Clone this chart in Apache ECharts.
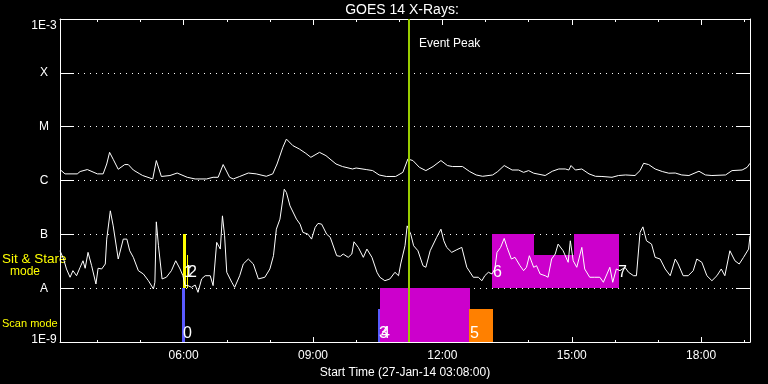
<!DOCTYPE html>
<html><head><meta charset="utf-8">
<script src="https://cdn.jsdelivr.net/npm/echarts@6/dist/echarts.min.js"></script>
<style>html,body{margin:0;padding:0;background:#000}#c{width:768px;height:384px}</style>
</head><body><div id="c"></div>
<script>
// ---- data ----
const startTime = '03:08';
const endTime = '19:08';
const longTimes = ['03:08','03:15','03:32','03:36','03:46','04:00','04:08','04:13','04:17','04:22',
'04:29','04:38','04:43','04:50','04:59','05:03','05:17','05:22','05:29','05:41',
'05:51','06:05','06:16','06:32','06:41','06:48','06:55','07:04','07:09','07:18',
'07:30','07:41','07:55','08:04','08:10','08:18','08:23','08:32','08:41','08:50',
'08:57','09:09','09:18','09:32','09:41','09:55','10:00','10:14','10:23','10:32',
'10:42','10:55','11:05','11:12','11:19','11:28','11:37','11:47','11:58','12:07',
'12:14','12:28','12:38','12:47','12:56','13:10','13:17','13:26','13:37','13:46',
'13:53','14:00','14:07','14:23','14:33','14:42','14:51','14:56','14:59','15:05',
'15:14','15:24','15:33','15:42','15:56','16:05','16:15','16:28','16:35','16:40',
'16:47','16:56','17:06','17:15','17:24','17:33','17:43','17:57','18:06','18:15',
'18:34','18:43','18:57','19:04','19:08'];
const longFlux = [1.60e-6,1.33e-6,1.33e-6,1.47e-6,1.60e-6,1.33e-6,1.33e-6,2.03e-6,3.34e-6,2.48e-6,
1.62e-6,1.98e-6,1.98e-6,1.57e-6,1.33e-6,1.24e-6,1.07e-6,2.35e-6,1.19e-6,1.24e-6,
1.38e-6,1.15e-6,1.07e-6,1.07e-6,1.15e-6,1.15e-6,1.98e-6,1.15e-6,1.07e-6,1.19e-6,
1.38e-6,1.33e-6,1.20e-6,1.33e-6,2.03e-6,4.14e-6,5.89e-6,4.45e-6,3.85e-6,3.20e-6,
2.70e-6,3.34e-6,2.90e-6,2.03e-6,1.82e-6,1.64e-6,1.71e-6,1.60e-6,1.53e-6,1.27e-6,
1.19e-6,1.19e-6,1.42e-6,2.51e-6,2.35e-6,1.76e-6,1.53e-6,1.82e-6,2.35e-6,1.90e-6,
1.82e-6,1.82e-6,1.47e-6,1.27e-6,1.20e-6,1.27e-6,1.47e-6,1.90e-6,1.57e-6,1.57e-6,
1.42e-6,1.53e-6,1.37e-6,1.24e-6,1.49e-6,1.64e-6,1.64e-6,1.57e-6,1.90e-6,1.57e-6,
1.64e-6,1.33e-6,1.20e-6,1.19e-6,1.15e-6,1.24e-6,1.27e-6,1.24e-6,1.53e-6,2.09e-6,
1.98e-6,1.64e-6,1.47e-6,1.37e-6,1.38e-6,1.27e-6,1.24e-6,1.49e-6,1.27e-6,1.24e-6,
1.27e-6,1.53e-6,1.57e-6,1.76e-6,2.09e-6];
const shortTimes = ['03:08','03:13','03:17','03:22','03:26','03:31','03:36','03:40','03:43','03:47',
'03:52','03:58','04:01','04:06','04:11','04:13','04:18','04:22','04:29','04:36',
'04:41','04:45','04:50','04:57','05:04','05:11','05:18','05:20','05:22','05:25',
'05:30','05:36','05:43','05:49','05:55','05:59','06:02','06:06','06:11','06:16',
'06:20','06:25','06:30','06:37','06:41','06:46','06:51','06:54','06:57','07:00',
'07:07','07:11','07:18','07:23','07:30','07:37','07:44','07:53','08:00','08:05',
'08:09','08:14','08:20','08:23','08:28','08:37','08:42','08:46','08:53','08:58',
'09:03','09:07','09:12','09:19','09:24','09:33','09:38','09:42','09:49','09:54',
'09:57','10:03','10:10','10:15','10:22','10:29','10:33','10:40','10:47','10:54',
'10:59','11:02','11:08','11:11','11:16','11:20','11:26','11:33','11:37','11:43',
'11:52','11:58','12:02','12:06','12:13','12:20','12:27','12:34','12:43','12:50',
'12:55','12:59','13:04','13:09','13:13','13:16','13:21','13:26','13:30','13:36',
'13:41','13:48','13:53','13:57','14:01','14:07','14:11','14:16','14:23','14:27',
'14:32','14:37','14:41','14:48','14:55','14:58','15:02','15:07','15:14','15:18',
'15:25','15:32','15:39','15:44','15:49','15:53','15:57','16:02','16:07','16:14',
'16:19','16:26','16:30','16:35','16:39','16:44','16:51','16:56','17:03','17:10',
'17:17','17:24','17:28','17:35','17:42','17:49','17:54','18:01','18:08','18:15',
'18:22','18:28','18:33','18:40','18:47','18:53','18:59','19:06','19:08'];
const shortFlux = [4.97e-8,3.49e-8,2.28e-8,1.60e-8,2.12e-8,1.71e-8,2.45e-8,3.24e-8,2.35e-8,4.64e-8,
2.62e-8,1.20e-8,2.35e-8,2.28e-8,2.82e-8,8.18e-8,27.4e-8,14.4e-8,3.49e-8,8.18e-8,
8.18e-8,4.97e-8,3.75e-8,2.12e-8,1.84e-8,1.38e-8,0.97e-8,1.29e-8,17.1e-8,6.15e-8,
1.49e-8,1.60e-8,2.12e-8,3.24e-8,2.28e-8,1.71e-8,1.12e-8,1.12e-8,1.04e-8,1.15e-8,
0.84e-8,1.49e-8,1.71e-8,1.71e-8,1.12e-8,7.11e-8,5.34e-8,22.1e-8,9.42e-8,1.98e-8,
1.29e-8,1.04e-8,1.71e-8,2.82e-8,3.49e-8,2.82e-8,1.49e-8,1.60e-8,2.28e-8,4.02e-8,
12.5e-8,19.2e-8,69.0e-8,60.0e-8,33.9e-8,19.2e-8,15.5e-8,10.9e-8,10.1e-8,8.18e-8,
13.5e-8,16.0e-8,15.5e-8,10.1e-8,8.80e-8,4.02e-8,3.91e-8,4.32e-8,3.75e-8,4.32e-8,
7.29e-8,5.74e-8,3.75e-8,5.34e-8,3.75e-8,1.98e-8,1.60e-8,1.38e-8,1.49e-8,1.98e-8,
1.71e-8,2.82e-8,6.15e-8,14.4e-8,10.1e-8,6.15e-8,4.97e-8,2.62e-8,2.45e-8,4.97e-8,
8.80e-8,12.5e-8,7.61e-8,5.74e-8,4.64e-8,5.19e-8,5.74e-8,2.45e-8,1.60e-8,1.60e-8,
1.38e-8,1.71e-8,1.98e-8,1.84e-8,2.28e-8,4.64e-8,5.74e-8,8.43e-8,5.74e-8,3.49e-8,
3.75e-8,2.62e-8,2.12e-8,2.45e-8,4.02e-8,2.45e-8,2.62e-8,1.84e-8,1.71e-8,1.60e-8,
3.49e-8,4.32e-8,6.61e-8,4.97e-8,3.03e-8,7.61e-8,3.24e-8,2.45e-8,5.74e-8,2.28e-8,
1.60e-8,1.60e-8,1.60e-8,1.29e-8,1.84e-8,2.45e-8,1.29e-8,2.28e-8,2.12e-8,2.45e-8,
1.98e-8,1.71e-8,1.71e-8,10.9e-8,13.8e-8,7.61e-8,6.61e-8,3.75e-8,3.49e-8,2.28e-8,
1.71e-8,3.49e-8,2.82e-8,1.71e-8,1.71e-8,2.12e-8,3.49e-8,3.03e-8,1.71e-8,1.38e-8,
1.71e-8,2.28e-8,1.71e-8,4.97e-8,3.24e-8,2.82e-8,3.75e-8,5.34e-8,9.42e-8];
const majorTickHours = [6, 9, 12, 15, 18];   // labelled ticks, every 3 h
const minorTickFirst = 4, minorTickLast = 19; // hourly ticks
const levelValues = [1e-9, 1e-8, 1e-7, 1e-6, 1e-5, 1e-4, 1e-3];
const levelLabels = ['1E-9', 'A', 'B', 'C', 'M', 'X', '1E-3'];
// observation blocks
const eventNames = ['0', '1', '2', '3', '4', '5', '6', '', '', '7'];
const eventStart = ['05:58','05:59','06:04','10:30','10:33','12:37','13:09','14:08','15:03','16:03'];
const eventEnd   = ['06:02','06:03','06:05','10:33','12:38','13:10','14:08','15:03','16:06','16:06'];
const eventLow   = [1e-9, 1e-8, 1e-8, 1e-9, 1e-9, 1e-9, 1e-8, 1e-8, 1e-8, 1e-8];
const eventHigh  = [1e-8, 1e-7, 4.1e-8, 4.1e-9, 1e-8, 4.1e-9, 1e-7, 4.1e-8, 1e-7, 1e-7];
const eventKind  = ['scanA','stareY','stareY','scanA','scanB','scanC','stare','stare','stare','stare'];
const peakTime = '11:13';

// ---- styles / layout ----
const kindColor = {scanA: '#5a5aff', scanB: '#cc00cc', scanC: '#ff8000', stare: '#cc00cc', stareY: '#ffff00'};
const FONT = '"Liberation Sans", Arial, sans-serif';
const GL = 60, GT = 19, GW = 690, GH = 324;

function toHours(s) { const p = s.split(':'); return +p[0] + (+p[1]) / 60; }
const xMin = toHours(startTime), xMax = toHours(endTime);
const pxPerHour = GW / (xMax - xMin);

const eventData = eventStart.map((s, i) => [toHours(s), toHours(eventEnd[i]), eventLow[i], eventHigh[i], i]);

const chart = echarts.init(document.getElementById('c'), null, {renderer: 'canvas'});

function mainX(pos, showLabel) {
  const a = {
    type: 'value', position: pos, min: xMin, max: xMax, gridIndex: 0,
    axisLine: {show: true, onZero: false, lineStyle: {color: '#fff', width: 1}},
    axisTick: {show: false},
    axisLabel: {show: showLabel, customValues: majorTickHours, margin: 8, color: '#fff', fontSize: 12, fontFamily: FONT,
      formatter: v => (v < 10 ? '0' : '') + Math.round(v) + ':00'},
    splitLine: {show: false}
  };
  if (showLabel) {
    a.name = 'Start Time (27-Jan-14 03:08:00)';
    a.nameLocation = 'middle';
    a.nameGap = 15;
    a.nameTextStyle = {color: '#fff', fontSize: 12, fontFamily: FONT};
  }
  return a;
}
// tick-only axes on helper grids aligned with the main time scale
function tickX(grid, pos, lo, hi, step, len) {
  return {
    type: 'value', position: pos, min: lo, max: hi, interval: step, gridIndex: grid,
    axisLine: {show: false, onZero: false},
    axisTick: {show: true, inside: true, length: len, lineStyle: {color: '#fff', width: 1}},
    axisLabel: {show: false}, splitLine: {show: false}
  };
}
function hiddenY(grid) {
  return {type: 'value', gridIndex: grid, show: false, min: 0, max: 1, splitLine: {show: false}};
}

function yAxisBase(pos, showLabel, showSplit) {
  return {
    type: 'log', logBase: 10, position: pos, min: 1e-9, max: 1e-3, gridIndex: 0,
    axisLine: {show: true, onZero: false, lineStyle: {color: '#fff', width: 1}},
    axisTick: {show: true, inside: true, length: 14, lineStyle: {color: '#fff', width: 1}},
    minorTick: {show: false},
    axisLabel: {show: showLabel, showMinLabel: true, showMaxLabel: true, align: 'center', margin: 16,
      color: '#fff', fontSize: 12, fontFamily: FONT,
      formatter: v => {
        const i = levelValues.findIndex(l => Math.abs(Math.log10(l) - Math.log10(v)) < 0.01);
        if (i < 0) return '';
        if (i === 0) return '{bot|' + levelLabels[i] + '}';
        if (i === levelValues.length - 1) return '{top|' + levelLabels[i] + '}';
        return levelLabels[i];
      },
      rich: {
        top: {padding: [14, 0, 0, 0], color: '#fff', fontSize: 12, fontFamily: FONT},
        bot: {padding: [0, 0, 5, 0], color: '#fff', fontSize: 12, fontFamily: FONT}
      }},
    splitLine: {show: showSplit, lineStyle: {color: '#fff', width: 1, type: [1, 5]}}
  };
}

const majLo = majorTickHours[0], majHi = majorTickHours[majorTickHours.length - 1];
const majStep = majorTickHours[1] - majorTickHours[0];

chart.setOption({
  backgroundColor: '#000',
  animation: false,
  title: {text: 'GOES 14 X-Rays:', left: 402, top: 3, padding: 0, textAlign: 'center',
    textStyle: {color: '#fff', fontSize: 14, fontWeight: 'normal', fontFamily: FONT}},
  grid: [
    {left: GL, top: GT, width: GW, height: GH, containLabel: false},
    {left: GL + (minorTickFirst - xMin) * pxPerHour, top: GT, width: (minorTickLast - minorTickFirst) * pxPerHour, height: GH, containLabel: false},
    {left: GL + (majLo - xMin) * pxPerHour, top: GT, width: (majHi - majLo) * pxPerHour, height: GH, containLabel: false}
  ],
  xAxis: [
    mainX('bottom', true), mainX('top', false),
    tickX(1, 'bottom', minorTickFirst, minorTickLast, 1, 3), tickX(1, 'top', minorTickFirst, minorTickLast, 1, 3),
    tickX(2, 'bottom', majLo, majHi, majStep, 6), tickX(2, 'top', majLo, majHi, majStep, 6)
  ],
  yAxis: [yAxisBase('left', true, true), yAxisBase('right', false, false), hiddenY(1), hiddenY(2)],
  graphic: [
    {type: 'text', left: 2, top: 252, style: {text: 'Sit & Stare', fill: '#ffff00', font: '13.5px ' + FONT}},
    {type: 'text', left: 10, top: 266, style: {text: 'mode', fill: '#ffff00', font: '12px ' + FONT}},
    {type: 'text', left: 2, top: 318, style: {text: 'Scan mode', fill: '#ffff00', font: '11px ' + FONT}}
  ],
  series: [
    {
      type: 'custom', name: 'blocks', xAxisIndex: 0, yAxisIndex: 0, z: 2, clip: true,
      data: eventData,
      renderItem: (params, api) => {
        const i = api.value(4);
        const p0 = api.coord([api.value(0), api.value(3)]);
        const p1 = api.coord([api.value(1), api.value(2)]);
        const x0 = Math.round(p0[0]), x1 = Math.round(p1[0]);
        const y0 = Math.round(p0[1]), y1 = Math.round(p1[1]);
        return {type: 'rect', shape: {x: x0, y: y0, width: Math.max(1, x1 - x0), height: y1 - y0},
          style: {fill: kindColor[eventKind[i]]}};
      }
    },
    {
      type: 'line', name: 'long', xAxisIndex: 0, yAxisIndex: 0, z: 3,
      data: longTimes.map((t, i) => [toHours(t), longFlux[i]]),
      showSymbol: false, symbol: 'none', lineStyle: {color: '#fff', width: 1}, emphasis: {disabled: true}
    },
    {
      type: 'line', name: 'short', xAxisIndex: 0, yAxisIndex: 0, z: 3,
      data: shortTimes.map((t, i) => [toHours(t), shortFlux[i]]),
      showSymbol: false, symbol: 'none', lineStyle: {color: '#fff', width: 1}, emphasis: {disabled: true}
    },
    {
      type: 'custom', name: 'labels', xAxisIndex: 0, yAxisIndex: 0, z: 4,
      data: eventData,
      renderItem: (params, api) => {
        const i = api.value(4);
        if (!eventNames[i]) return null;
        const p = api.coord([api.value(0), api.value(2)]);
        const stare = eventLow[i] >= 1e-8;
        return {type: 'text', x: Math.round(p[0]) + 1, y: Math.round(p[1]) - (stare ? 15 : 8),
          style: {text: eventNames[i], fill: '#fff', font: '16px ' + FONT, verticalAlign: 'middle', align: 'left'}};
      }
    },
    {
      type: 'custom', name: 'peak', xAxisIndex: 0, yAxisIndex: 0, z: 5,
      data: [[toHours(peakTime), 1e-6]],
      renderItem: (params, api) => {
        const x = Math.round(api.coord([api.value(0), api.value(1)])[0]);
        const cs = params.coordSys;
        return {type: 'group', children: [
          {type: 'line', shape: {x1: x, y1: cs.y, x2: x, y2: cs.y + cs.height}, style: {stroke: '#99cc00', lineWidth: 2}},
          {type: 'text', x: x + 10, y: cs.y + 25, style: {text: 'Event Peak', fill: '#fff', font: '12px ' + FONT, verticalAlign: 'middle'}}
        ]};
      }
    }
  ]
});
</script>
</body></html>
